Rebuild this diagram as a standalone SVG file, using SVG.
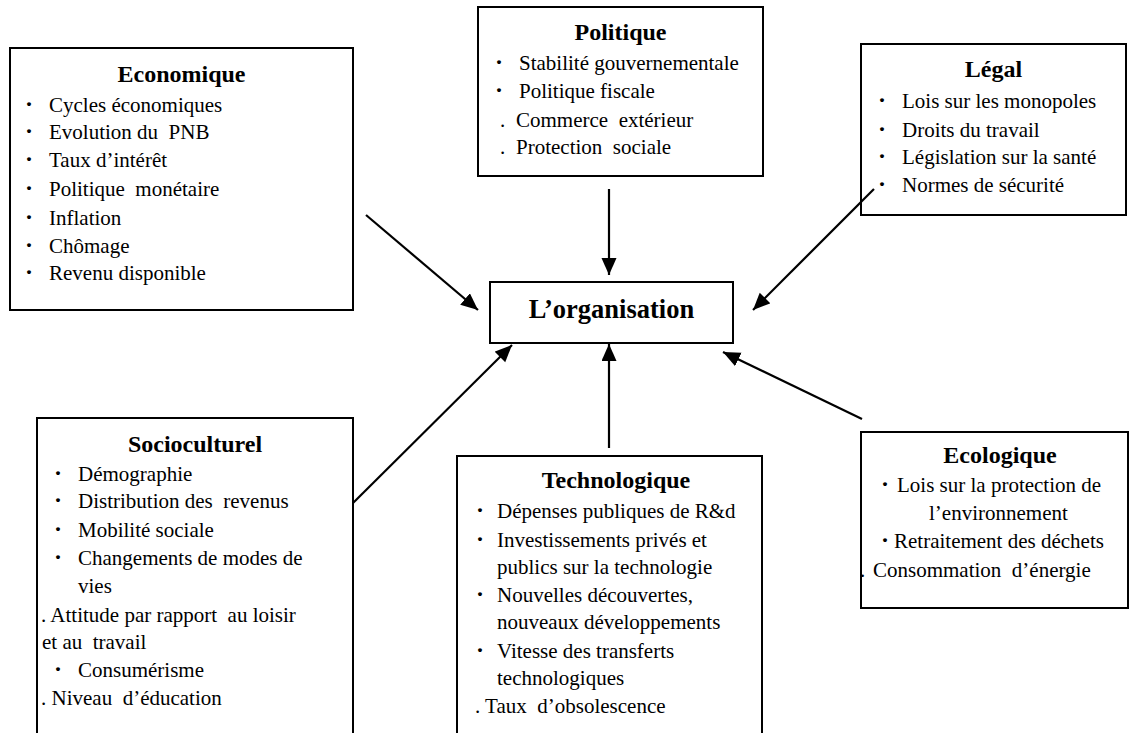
<svg xmlns="http://www.w3.org/2000/svg" width="1134" height="733" viewBox="0 0 1134 733">
  <style>
    .box { fill: #fff; stroke: #000; stroke-width: 2; }
    .side { fill: none; stroke: #000; stroke-width: 2; }
    .title { font-family: "Liberation Serif", "Times New Roman", serif; font-weight: bold; font-size: 24px; text-anchor: middle; fill: #000; }
    .main { font-family: "Liberation Serif", "Times New Roman", serif; font-weight: bold; font-size: 26.5px; text-anchor: middle; fill: #000; }
    .item { font-family: "Liberation Serif", "Times New Roman", serif; font-size: 21px; fill: #000; white-space: pre; }
    .bul { font-weight: bold; font-size: 24px; }
    .link { stroke: #000; stroke-width: 2.2; fill: none; marker-end: url(#head); }
  </style>
  <defs>
    <marker id="head" markerUnits="userSpaceOnUse" markerWidth="18" markerHeight="16" refX="17" refY="7.5" orient="auto">
      <path d="M0,0 L17,7.5 L0,15 z" fill="#000"/>
    </marker>
  </defs>
  <rect width="1134" height="733" fill="#fff"/>

  <!-- Economique -->
  <g id="economique">
    <rect class="box" x="10" y="48" width="343" height="262"/>
    <text class="title" x="181.5" y="82">Economique</text>
    <text class="item" y="112"><tspan class="bul" x="25">·</tspan><tspan x="49">Cycles économiques</tspan></text>
    <text class="item" y="139"><tspan class="bul" x="25">·</tspan><tspan x="49">Evolution du  PNB</tspan></text>
    <text class="item" y="167"><tspan class="bul" x="25">·</tspan><tspan x="49">Taux d’intérêt</tspan></text>
    <text class="item" y="196"><tspan class="bul" x="25">·</tspan><tspan x="49">Politique  monétaire</tspan></text>
    <text class="item" y="225"><tspan class="bul" x="25">·</tspan><tspan x="49">Inflation</tspan></text>
    <text class="item" y="253"><tspan class="bul" x="25">·</tspan><tspan x="49">Chômage</tspan></text>
    <text class="item" y="280"><tspan class="bul" x="25">·</tspan><tspan x="49">Revenu disponible</tspan></text>
  </g>

  <!-- Politique -->
  <g id="politique">
    <rect class="box" x="478" y="7" width="285" height="169"/>
    <text class="title" x="620.5" y="40">Politique</text>
    <text class="item" y="70"><tspan class="bul" x="495">·</tspan><tspan x="519">Stabilité gouvernementale</tspan></text>
    <text class="item" y="98"><tspan class="bul" x="495">·</tspan><tspan x="519">Politique fiscale</tspan></text>
    <text class="item" y="127"><tspan x="500">.</tspan><tspan x="516">Commerce  extérieur</tspan></text>
    <text class="item" y="154"><tspan x="500">.</tspan><tspan x="516">Protection  sociale</tspan></text>
  </g>

  <!-- Légal -->
  <g id="legal">
    <rect class="box" x="861" y="44" width="265" height="171"/>
    <text class="title" x="993.5" y="77">Légal</text>
    <text class="item" y="108"><tspan class="bul" x="878">·</tspan><tspan x="902">Lois sur les monopoles</tspan></text>
    <text class="item" y="137"><tspan class="bul" x="878">·</tspan><tspan x="902">Droits du travail</tspan></text>
    <text class="item" y="164"><tspan class="bul" x="878">·</tspan><tspan x="902">Législation sur la santé</tspan></text>
    <text class="item" y="192"><tspan class="bul" x="878">·</tspan><tspan x="902">Normes de sécurité</tspan></text>
  </g>

  <!-- L'organisation -->
  <g id="organisation">
    <rect class="box" x="490" y="282" width="243" height="61"/>
    <text class="main" x="611.5" y="318">L’organisation</text>
  </g>

  <!-- Socioculturel (open at the bottom) -->
  <g id="socioculturel">
    <path class="side" d="M37,740 V418 H353 V740"/>
    <text class="title" x="195" y="452">Socioculturel</text>
    <text class="item" y="481"><tspan class="bul" x="54">·</tspan><tspan x="78">Démographie</tspan></text>
    <text class="item" y="508"><tspan class="bul" x="54">·</tspan><tspan x="78">Distribution des  revenus</tspan></text>
    <text class="item" y="537"><tspan class="bul" x="54">·</tspan><tspan x="78">Mobilité sociale</tspan></text>
    <text class="item" y="565"><tspan class="bul" x="54">·</tspan><tspan x="78">Changements de modes de</tspan></text>
    <text class="item" x="78" y="593">vies</text>
    <text class="item" x="41" y="622">. Attitude par rapport  au loisir</text>
    <text class="item" x="42" y="649">et au  travail</text>
    <text class="item" y="677"><tspan class="bul" x="54">·</tspan><tspan x="78">Consumérisme</tspan></text>
    <text class="item" x="41" y="705">. Niveau  d’éducation</text>
  </g>

  <!-- Technologique (open at the bottom) -->
  <g id="technologique">
    <path class="side" d="M457,740 V456 H762 V740"/>
    <text class="title" x="616" y="488">Technologique</text>
    <text class="item" y="518"><tspan class="bul" x="476">·</tspan><tspan x="497">Dépenses publiques de R&amp;d</tspan></text>
    <text class="item" y="547"><tspan class="bul" x="476">·</tspan><tspan x="497">Investissements privés et</tspan></text>
    <text class="item" x="497" y="574">publics sur la technologie</text>
    <text class="item" y="602"><tspan class="bul" x="476">·</tspan><tspan x="497">Nouvelles découvertes,</tspan></text>
    <text class="item" x="497" y="629">nouveaux développements</text>
    <text class="item" y="658"><tspan class="bul" x="476">·</tspan><tspan x="497">Vitesse des transferts</tspan></text>
    <text class="item" x="497" y="685">technologiques</text>
    <text class="item" x="475" y="713">. Taux  d’obsolescence</text>
  </g>

  <!-- Ecologique -->
  <g id="ecologique">
    <rect class="box" x="861" y="432" width="267" height="176"/>
    <text class="title" x="1000" y="463">Ecologique</text>
    <text class="item" y="492"><tspan class="bul" x="881">·</tspan><tspan x="897">Lois sur la protection de</tspan></text>
    <text class="item" x="929" y="520">l’environnement</text>
    <text class="item" y="548"><tspan class="bul" x="881">·</tspan><tspan x="894">Retraitement des déchets</tspan></text>
    <text class="item" y="577"><tspan x="860">.</tspan><tspan x="873">Consommation  d’énergie</tspan></text>
  </g>

  <!-- connectors towards the organisation -->
  <g id="connectors">
    <line class="link" x1="366" y1="215" x2="478" y2="310"/>
    <line class="link" x1="609" y1="189" x2="609" y2="275"/>
    <line class="link" x1="874" y1="189" x2="753" y2="310"/>
    <line class="link" x1="353" y1="503" x2="512" y2="345"/>
    <line class="link" x1="609" y1="448" x2="609" y2="344"/>
    <line class="link" x1="862" y1="419" x2="723" y2="352"/>
  </g>
</svg>
